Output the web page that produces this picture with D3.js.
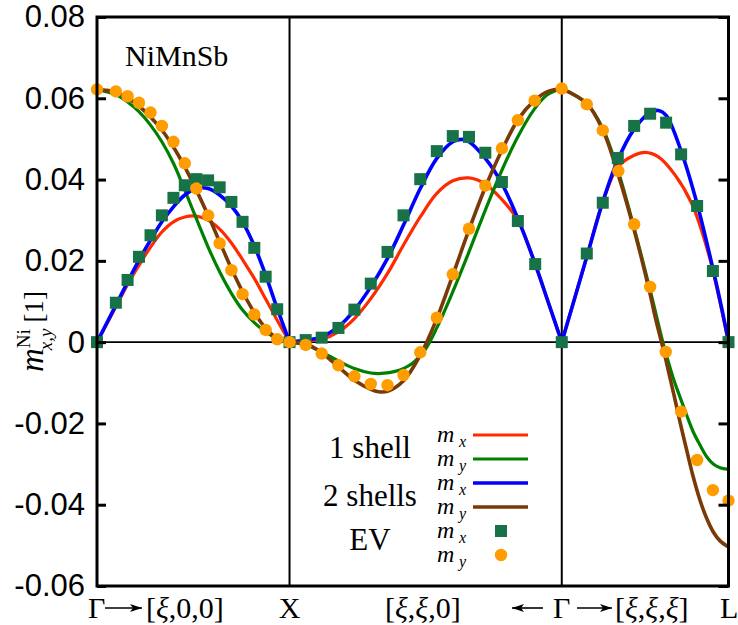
<!DOCTYPE html>
<html><head><meta charset="utf-8">
<script src="https://cdn.jsdelivr.net/npm/d3@7"></script>
<style>body{margin:0;background:#fff}</style>
</head><body><svg id="c" width="738" height="625"></svg>
<script>
// high-symmetry path positions: Γ, X, Γ, L
const pathTicks = [0, 1, 2.414, 3.280];
const yTickValues = [-0.06, -0.04, -0.02, 0, 0.02, 0.04, 0.06, 0.08];
const yTickLabels = ["-0.06", "-0.04", "-0.02", "0", "0.02", "0.04", "0.06", "0.08"];

// 1 shell, m_x (red)
const shell1Mx = [[0,0],[0.098,0.0087],[0.159,0.0142],[0.218,0.0189],[0.278,0.0234],[0.337,0.0271],[0.397,0.0296],[0.456,0.0308],[0.516,0.0310],[0.577,0.0300],[0.637,0.0278],[0.698,0.0244],[0.756,0.0203],[0.817,0.0157],[0.876,0.0106],[0.936,0.0054],[1,0],
 [1.084,0.0003],[1.167,0.0007],[1.254,0.0025],[1.337,0.0058],[1.422,0.0107],[1.509,0.0169],[1.592,0.0239],[1.679,0.0308],[1.765,0.0366],[1.848,0.0397],[1.932,0.0404],[2.017,0.0389],[2.103,0.0351],[2.186,0.0300],[2.276,0.0192],[2.346,0.0095],[2.414,0],
 [2.544,0.0210],[2.627,0.0345],[2.705,0.0431],[2.790,0.0460],[2.847,0.0467],[2.916,0.0456],[3.003,0.0411],[3.089,0.0341],[3.176,0.0218],[3.245,0.0078],[3.280,0]];
// 1 shell, m_y (green)
const shell1My = [[0,0.0622],[0.098,0.0609],[0.159,0.0591],[0.218,0.0567],[0.278,0.0534],[0.337,0.0493],[0.397,0.0440],[0.456,0.0374],[0.516,0.0304],[0.577,0.0234],[0.637,0.0173],[0.698,0.0120],[0.756,0.0079],[0.817,0.0048],[0.876,0.0025],[0.936,0.0009],[1,0],
 [1.084,-0.0007],[1.167,-0.0024],[1.254,-0.0046],[1.337,-0.0065],[1.422,-0.0076],[1.479,-0.0077],[1.549,-0.0072],[1.635,-0.0053],[1.705,-0.0018],[1.765,0.0035],[1.848,0.0124],[1.932,0.0222],[2.017,0.0325],[2.103,0.0423],[2.190,0.0509],[2.268,0.0571],[2.337,0.0608],[2.414,0.0624],
 [2.544,0.0587],[2.627,0.0526],[2.708,0.0419],[2.790,0.0280],[2.873,0.0128],[2.939,0.0],[2.960,-0.0036],[2.994,-0.0090],[3.028,-0.0135],[3.063,-0.0180],[3.097,-0.0221],[3.132,-0.0253],[3.167,-0.0282],[3.201,-0.0300],[3.236,-0.0309],[3.280,-0.0313]];
// 2 shells, m_x (blue)
const shell2Mx = [[0,0],[0.098,0.0091],[0.159,0.0148],[0.218,0.0202],[0.278,0.0251],[0.337,0.0296],[0.397,0.0333],[0.456,0.0362],[0.516,0.0378],[0.577,0.0378],[0.637,0.0362],[0.698,0.0335],[0.756,0.0296],[0.817,0.0237],[0.876,0.0165],[0.936,0.0083],[1,0],
 [1.084,0.0005],[1.167,0.0013],[1.254,0.0038],[1.337,0.0079],[1.422,0.0136],[1.509,0.0206],[1.592,0.0288],[1.679,0.0378],[1.765,0.0452],[1.848,0.0493],[1.895,0.0499],[1.932,0.0493],[2.017,0.0452],[2.103,0.0390],[2.186,0.0304],[2.276,0.0192],[2.346,0.0095],[2.414,0],
 [2.544,0.0210],[2.627,0.0345],[2.705,0.0448],[2.790,0.0524],[2.873,0.0565],[2.916,0.0570],[2.956,0.0558],[3.034,0.0470],[3.117,0.0340],[3.199,0.0181],[3.245,0.0083],[3.280,0]];
// 2 shells, m_y (brown)
const shell2My = [[0,0.0622],[0.098,0.0615],[0.159,0.0601],[0.218,0.0581],[0.278,0.0554],[0.337,0.0522],[0.397,0.0480],[0.456,0.0431],[0.516,0.0374],[0.577,0.0312],[0.637,0.0247],[0.698,0.0181],[0.756,0.0124],[0.817,0.0073],[0.876,0.0034],[0.936,0.0009],[1,0],
 [1.084,-0.0004],[1.167,-0.0026],[1.254,-0.0061],[1.337,-0.0094],[1.422,-0.0116],[1.462,-0.0122],[1.509,-0.0121],[1.592,-0.0095],[1.679,-0.0032],[1.765,0.0058],[1.848,0.0165],[1.932,0.0276],[2.017,0.0381],[2.103,0.0472],[2.190,0.0550],[2.273,0.0595],[2.337,0.0616],[2.414,0.0624],
 [2.544,0.0587],[2.627,0.0522],[2.708,0.0411],[2.790,0.0276],[2.873,0.0118],[2.899,0.0062],[2.925,0.0013],[2.951,-0.0036],[2.977,-0.0090],[3.003,-0.0143],[3.028,-0.0196],[3.063,-0.0266],[3.097,-0.0332],[3.132,-0.0389],[3.167,-0.0434],[3.201,-0.0467],[3.236,-0.0489],[3.280,-0.0504]];
// EV m_x (squares)
const evMx = [[0,0],[0.098,0.0097],[0.159,0.0153],[0.218,0.0210],[0.278,0.0263],[0.337,0.0312],[0.397,0.0355],[0.456,0.0386],[0.516,0.0401],[0.577,0.0398],[0.637,0.0381],[0.698,0.0345],[0.756,0.0296],[0.817,0.0232],[0.876,0.0161],[0.936,0.0081],[1,0],
 [1.084,0.0005],[1.167,0.0011],[1.254,0.0035],[1.337,0.0080],[1.422,0.0144],[1.509,0.0222],[1.592,0.0312],[1.679,0.0401],[1.765,0.0470],[1.848,0.0507],[1.932,0.0505],[2.017,0.0466],[2.103,0.0394],[2.186,0.0298],[2.276,0.0192],[2.414,0],
 [2.544,0.0218],[2.627,0.0343],[2.705,0.0453],[2.790,0.0532],[2.873,0.0562],[2.956,0.0540],[3.034,0.0462],[3.117,0.0335],[3.199,0.0175],[3.280,0]];
// EV m_y (circles)
const evMy = [[0,0.0622],[0.098,0.0617],[0.159,0.0605],[0.218,0.0589],[0.278,0.0565],[0.337,0.0532],[0.397,0.0493],[0.456,0.0440],[0.516,0.0378],[0.577,0.0312],[0.637,0.0243],[0.698,0.0177],[0.756,0.0118],[0.817,0.0068],[0.876,0.0030],[0.936,0.0007],[1,0],
 [1.084,-0.0007],[1.167,-0.0028],[1.254,-0.0057],[1.337,-0.0084],[1.422,-0.0103],[1.509,-0.0106],[1.592,-0.0081],[1.679,-0.0025],[1.765,0.0060],[1.848,0.0167],[1.932,0.0279],[2.017,0.0385],[2.103,0.0477],[2.186,0.0546],[2.273,0.0594],[2.414,0.0624],
 [2.544,0.0585],[2.627,0.0521],[2.708,0.0421],[2.790,0.0290],[2.873,0.0136],[2.954,-0.0024],[3.034,-0.0171],[3.117,-0.0290],[3.199,-0.0364],[3.280,-0.0390]];

const lineSeries = [
  {name: "1 shell mx", data: shell1Mx, color: "#ff2a00", width: 3.2},
  {name: "1 shell my", data: shell1My, color: "#008000", width: 3.2},
  {name: "2 shells mx", data: shell2Mx, color: "#0000ff", width: 3.6},
  {name: "2 shells my", data: shell2My, color: "#7a3a08", width: 3.6}
];

const svg = d3.select("#c");
const L = 97, R = 728.5, T = 17, B = 586;
const x = d3.scaleLinear().domain([0, 3.280]).range([L, R]);
const y = d3.scaleLinear().domain([-0.06, 0.08]).range([B, T]);

// zero line
svg.append("line").attr("x1", L).attr("x2", R).attr("y1", y(0)).attr("y2", y(0))
  .attr("stroke", "#000").attr("stroke-width", 1.6);
// vertical lines at X and Γ
pathTicks.slice(1, 3).forEach(k => {
  svg.append("line").attr("x1", x(k)).attr("x2", x(k)).attr("y1", T).attr("y2", B)
    .attr("stroke", "#000").attr("stroke-width", 2);
});

// curves, split by path segment
const line = d3.line().x(d => x(d[0])).y(d => y(d[1])).curve(d3.curveCatmullRom.alpha(0.5));
function segments(data) {
  const out = [];
  for (let i = 0; i < pathTicks.length - 1; i++) {
    const a = pathTicks[i] - 1e-6, b = pathTicks[i + 1] + 1e-6;
    out.push(data.filter(d => d[0] >= a && d[0] <= b));
  }
  return out;
}
lineSeries.forEach(s => {
  segments(s.data).forEach(seg => {
    svg.append("path").attr("d", line(seg)).attr("fill", "none")
      .attr("stroke", s.color).attr("stroke-width", s.width).attr("stroke-linejoin", "round");
  });
});

// EV points
const sq = 12;
svg.append("g").selectAll("rect").data(evMx).join("rect")
  .attr("x", d => x(d[0]) - sq / 2).attr("y", d => y(d[1]) - sq / 2)
  .attr("width", sq).attr("height", sq).attr("fill", "#177247");
svg.append("g").selectAll("circle").data(evMy).join("circle")
  .attr("cx", d => x(d[0])).attr("cy", d => y(d[1])).attr("r", 6.2).attr("fill", "#ff9c00");

// axes with inward ticks
const yAxisL = d3.axisLeft(y).tickValues(yTickValues).tickFormat((d, i) => yTickLabels[i])
  .tickSizeInner(-9).tickSizeOuter(0).tickPadding(12);
const gl = svg.append("g").attr("transform", `translate(${L},0)`).call(yAxisL);
gl.select(".domain").remove();
gl.selectAll(".tick line").attr("stroke", "#000").attr("stroke-width", 3);
gl.selectAll(".tick text").attr("font-family", "Liberation Sans, Arial, sans-serif")
  .attr("font-size", 31).attr("fill", "#000");
const yAxisR = d3.axisRight(y).tickValues(yTickValues).tickFormat("").tickSizeInner(-10).tickSizeOuter(0);
const gr = svg.append("g").attr("transform", `translate(${R},0)`).call(yAxisR);
gr.select(".domain").remove();
gr.selectAll(".tick line").attr("stroke", "#000").attr("stroke-width", 3);

// frame
svg.append("rect").attr("x", L).attr("y", T).attr("width", R - L).attr("height", B - T)
  .attr("fill", "none").attr("stroke", "#000").attr("stroke-width", 3);

// NiMnSb
const serif = "Liberation Serif, Times New Roman, serif";
svg.append("text").attr("x", 125).attr("y", 66).attr("font-family", serif).attr("font-size", 30)
  .text("NiMnSb");

// y label (rotated)
const yl = svg.append("text").attr("transform", "translate(43,372) rotate(-90)")
  .attr("font-family", serif).attr("font-size", 33);
yl.append("tspan").attr("font-style", "italic").text("m");
yl.append("tspan").attr("font-size", 19).attr("dy", -13).text("Ni");
yl.append("tspan").attr("font-size", 19).attr("font-style", "italic").attr("dx", -21).attr("dy", 22).text("x,y");
yl.append("tspan").attr("font-size", 27).attr("dy", -9).attr("dx", 6).text("[1]");

// bottom labels
svg.append("defs").append("marker").attr("id", "ah").attr("viewBox", "0 0 12 8")
  .attr("refX", 12).attr("refY", 4).attr("markerWidth", 12).attr("markerHeight", 8)
  .attr("markerUnits", "userSpaceOnUse").attr("orient", "auto")
  .append("path").attr("d", "M0,0 L12,4 L0,8 L3,4 Z").attr("fill", "#000");
function arrow(x1, x2, yy) {
  svg.append("line").attr("x1", x1).attr("x2", x2).attr("y1", yy).attr("y2", yy)
    .attr("stroke", "#000").attr("stroke-width", 1.6).attr("marker-end", "url(#ah)");
}
function bracketLabel(xs, parts, anchor) {
  const t = svg.append("text").attr("x", xs).attr("y", 618).attr("font-family", serif)
    .attr("font-size", 30).attr("text-anchor", anchor || "start");
  parts.forEach(p => t.append("tspan").attr("font-style", p[1] ? "italic" : "normal").text(p[0]));
}
bracketLabel(88, [["Γ", false]]);
arrow(105, 142, 608);
bracketLabel(146, [["[", false], ["ξ", true], [",0,0]", false]]);
bracketLabel(x(pathTicks[1]), [["X", false]], "middle");
bracketLabel(385, [["[", false], ["ξ", true], [",", false], ["ξ", true], [",0]", false]]);
arrow(543, 512, 608);
bracketLabel(553, [["Γ", false]]);
arrow(577, 612, 608);
bracketLabel(615, [["[", false], ["ξ", true], [",", false], ["ξ", true], [",", false], ["ξ", true], ["]", false]]);
bracketLabel(720, [["L", false]]);

// legend
const legGroups = [["1 shell", 458], ["2 shells", 506], ["EV", 550]];
legGroups.forEach(g => svg.append("text").attr("x", 370).attr("y", g[1]).attr("text-anchor", "middle")
  .attr("font-family", serif).attr("font-size", 31).text(g[0]));
const legRows = [
  {sub: "x", type: "line", color: "#ff2a00", w: 3.2},
  {sub: "y", type: "line", color: "#008000", w: 3.2},
  {sub: "x", type: "line", color: "#0000ff", w: 3.6},
  {sub: "y", type: "line", color: "#7a3a08", w: 3.6},
  {sub: "x", type: "square", color: "#177247"},
  {sub: "y", type: "circle", color: "#ff9c00"}
];
legRows.forEach((r, i) => {
  const cy = 435 + i * 24;
  svg.append("text").attr("x", 437).attr("y", cy + 7).attr("font-family", serif)
    .attr("font-size", 24).attr("font-style", "italic").text("m");
  svg.append("text").attr("x", 459).attr("y", cy + 12).attr("font-family", serif)
    .attr("font-size", 16).attr("font-style", "italic").text(r.sub);
  if (r.type === "line") {
    svg.append("line").attr("x1", 473).attr("x2", 528).attr("y1", cy).attr("y2", cy)
      .attr("stroke", r.color).attr("stroke-width", r.w);
  } else if (r.type === "square") {
    svg.append("rect").attr("x", 501 - 6).attr("y", cy - 6).attr("width", 12).attr("height", 12).attr("fill", r.color);
  } else {
    svg.append("circle").attr("cx", 501).attr("cy", cy).attr("r", 6.2).attr("fill", r.color);
  }
});
</script></body></html>
